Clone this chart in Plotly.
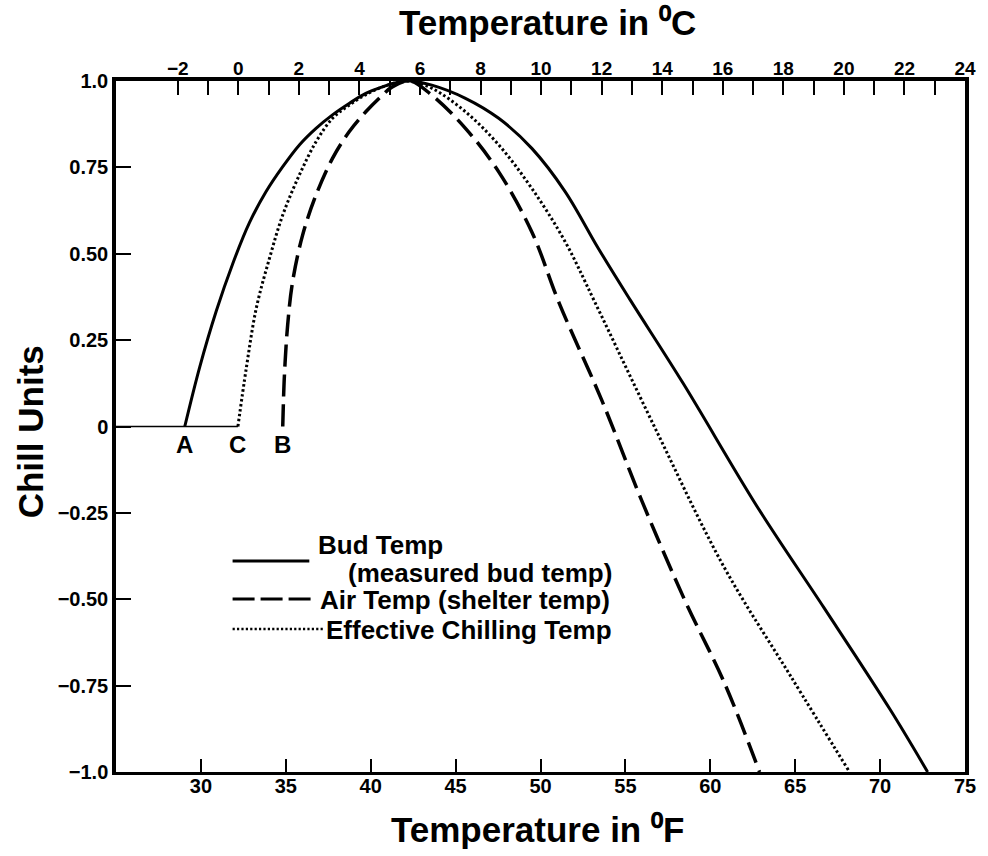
import plotly.graph_objects as go

# ---------------- data ----------------
bud_f = [29.05, 29.93, 30.91, 31.88, 32.86, 33.84, 34.82, 35.80, 36.78, 37.75, 38.73,
         39.71, 40.69, 41.4, 42.3, 43.6, 45.58, 47.54, 49.49, 51.45, 53.40, 55.3,
         58.4, 62.8, 66.7, 70.6, 72.8]
bud_cu = [0, 0.172, 0.335, 0.472, 0.590, 0.680, 0.752, 0.815, 0.863, 0.902, 0.935,
          0.964, 0.983, 0.994, 1.0, 0.988, 0.950, 0.892, 0.805, 0.680, 0.516, 0.365,
          0.125, -0.235, -0.525, -0.82, -1.0]

eff_f = [32.18, 32.67, 33.26, 34.04, 34.82, 35.80, 36.78, 37.75, 38.73, 39.7, 40.7,
         42.3, 43.6, 45.58, 47.54, 49.49, 51.45, 53.2, 56.9, 60.8, 64.75, 68.2]
eff_cu = [0, 0.168, 0.342, 0.487, 0.612, 0.728, 0.824, 0.892, 0.930, 0.96, 0.983,
          1.0, 0.979, 0.911, 0.815, 0.689, 0.535, 0.36, -0.02, -0.406, -0.724, -1.0]

air_f = [34.82, 34.92, 35.11, 35.4, 35.99, 36.78, 37.75, 38.73, 39.71, 40.69, 41.27,
         42.3, 43.6, 45.58, 47.54, 49.49, 51.1, 53.6, 55.95, 58.49, 60.84, 62.9]
air_cu = [0, 0.149, 0.294, 0.419, 0.554, 0.670, 0.776, 0.853, 0.911, 0.959, 0.983,
          1.0, 0.959, 0.863, 0.737, 0.563, 0.357, 0.077, -0.213, -0.502, -0.743, -1.0]

zero_f = [25, 32.18]
zero_cu = [0, 0]

f_ticks = [30, 35, 40, 45, 50, 55, 60, 65, 70, 75]
f_labels = ["30", "35", "40", "45", "50", "55", "60", "65", "70", "75"]
c_ticks = [-2, 0, 2, 4, 6, 8, 10, 12, 14, 16, 18, 20, 22, 24]
c_labels = ["\u22122", "0", "2", "4", "6", "8", "10", "12", "14", "16", "18", "20", "22", "24"]
c_minor = [-1, 1, 3, 5, 7, 9, 11, 13, 15, 17, 19, 21, 23]
y_ticks = [1.0, 0.75, 0.5, 0.25, 0, -0.25, -0.5, -0.75, -1.0]
y_labels = ["1.0", "0.75", "0.50", "0.25", "0", "\u22120.25", "\u22120.50", "\u22120.75", "\u22121.0"]

point_names = ["A", "C", "B"]
point_f = [29.05, 32.18, 34.82]

legend_names = ["Bud Temp", "Air Temp (shelter temp)", "Effective Chilling Temp"]
legend_sub = "(measured bud temp)"
title_f = "Temperature in \u2070F"
title_c = "Temperature in \u2070C"
title_y = "Chill Units"

# ---------------- layout geometry ----------------
W, H = 988, 856
L, R, T, B = 116, 968, 81, 772
FONT = "Liberation Sans, Arial, Helvetica, sans-serif"


def px(x):
    return (x - L) / (R - L)


def py(y):
    return (B - y) / (B - T)


fig = go.Figure()
fig.add_trace(go.Scatter(x=zero_f, y=zero_cu, mode="lines",
                         line=dict(color="black", width=1.5), hoverinfo="skip"))
fig.add_trace(go.Scatter(x=bud_f, y=bud_cu, mode="lines", line_shape="spline",
                         line=dict(color="black", width=3), name=legend_names[0]))
fig.add_trace(go.Scatter(x=air_f, y=air_cu, mode="lines", line_shape="spline",
                         line=dict(color="black", width=3.5, dash="22px,8px"),
                         name=legend_names[1]))
fig.add_trace(go.Scatter(x=eff_f, y=eff_cu, mode="lines", line_shape="spline",
                         line=dict(color="black", width=3, dash="2.5px,2.5px"),
                         name=legend_names[2]))
# carrier for the Celsius axis
fig.add_trace(go.Scatter(x=c_ticks, y=[1.0] * len(c_ticks), xaxis="x2", mode="markers",
                         marker=dict(opacity=0), hoverinfo="skip"))

tickfont = dict(family=FONT, size=20, color="black", weight="bold")

fig.update_layout(
    width=W, height=H,
    margin=dict(l=L, r=W - R, t=T, b=H - B),
    paper_bgcolor="white", plot_bgcolor="white",
    showlegend=False,
    font=dict(family=FONT, color="black", weight="bold", size=16),
    xaxis=dict(range=[25, 75], tickvals=f_ticks, ticktext=f_labels,
               ticks="inside", ticklen=13, tickwidth=1.5, tickcolor="black",
               showline=True, linewidth=3, linecolor="black", mirror=False,
               showgrid=False, zeroline=False, tickfont=tickfont,
               ticklabelstandoff=-6),
    xaxis2=dict(range=[-4.04, 24.0], overlaying="x", side="top",
                tickvals=c_ticks, ticktext=c_labels,
                ticks="inside", ticklen=14, tickwidth=1.5, tickcolor="black",
                minor=dict(tickvals=c_minor, ticks="inside", ticklen=14, tickwidth=1.5,
                           tickcolor="black", showgrid=False),
                showline=True, linewidth=3.5, linecolor="black",
                showgrid=False, zeroline=False,
                tickfont=dict(family=FONT, size=19, color="black", weight="bold"),
                ticklabelstandoff=-5),
    yaxis=dict(range=[-1, 1], tickvals=y_ticks, ticktext=y_labels,
               ticks="inside", ticklen=15, tickwidth=1.5, tickcolor="black",
               showline=True, linewidth=3.5, linecolor="black", mirror=True,
               showgrid=False, zeroline=False, tickfont=tickfont,
               ticklabelstandoff=0),
)

ann = []
title_font = dict(family=FONT, size=35, color="black", weight="bold")
ann.append(dict(text=title_f, x=px(539), y=py(830), xref="paper", yref="paper",
                showarrow=False, font=title_font, xanchor="center", yanchor="middle"))
ann.append(dict(text=title_c, x=px(549), y=py(22), xref="paper", yref="paper",
                showarrow=False, font=title_font, xanchor="center", yanchor="middle"))
ann.append(dict(text=title_y, x=px(30), y=py(432), xref="paper", yref="paper",
                showarrow=False, font=title_font, textangle=-90,
                xanchor="center", yanchor="middle"))
for name, fv in zip(point_names, point_f):
    ann.append(dict(text=name, x=fv, y=0, xref="x", yref="y", yshift=-18,
                    showarrow=False, font=dict(family=FONT, size=24, color="black", weight="bold"),
                    xanchor="center", yanchor="middle"))

leg_font = dict(family=FONT, size=26, color="black", weight="bold")
ann.append(dict(text=legend_names[0], x=px(317), y=py(545), xref="paper", yref="paper",
                showarrow=False, font=leg_font, xanchor="left", yanchor="middle"))
ann.append(dict(text=legend_sub, x=px(347), y=py(573), xref="paper", yref="paper",
                showarrow=False, font=leg_font, xanchor="left", yanchor="middle"))
ann.append(dict(text=legend_names[1], x=px(319), y=py(600), xref="paper", yref="paper",
                showarrow=False, font=leg_font, xanchor="left", yanchor="middle"))
ann.append(dict(text=legend_names[2], x=px(325), y=py(630), xref="paper", yref="paper",
                showarrow=False, font=leg_font, xanchor="left", yanchor="middle"))
fig.update_layout(annotations=ann)

shapes = [
    dict(type="line", xref="paper", yref="paper", x0=px(233), x1=px(310), y0=py(561), y1=py(561),
         line=dict(color="black", width=3)),
    dict(type="line", xref="paper", yref="paper", x0=px(233), x1=px(317), y0=py(599), y1=py(599),
         line=dict(color="black", width=3, dash="22px,6px")),
    dict(type="line", xref="paper", yref="paper", x0=px(233), x1=px(325), y0=py(629), y1=py(629),
         line=dict(color="black", width=2.6, dash="2.2px,2.2px")),
]
fig.update_layout(shapes=shapes)

fig.write_html("out.html", config={"displayModeBar": False},
               post_script="document.body.style.margin='0px';document.body.style.padding='0px';")
